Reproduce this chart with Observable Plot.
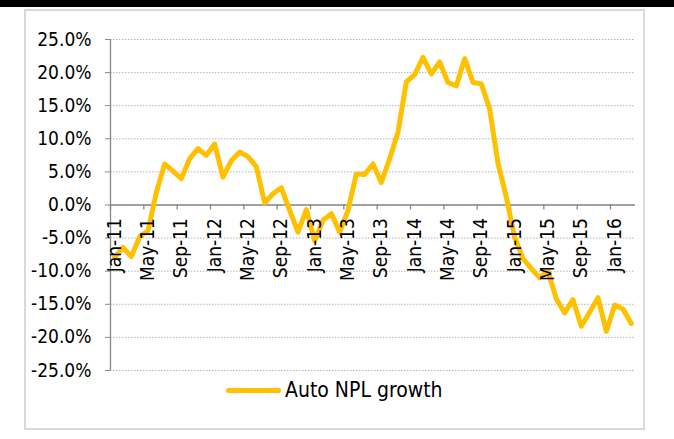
<!DOCTYPE html>
<html>
<head>
<meta charset="utf-8">
<script src="https://cdn.jsdelivr.net/npm/d3@7"></script>
<script src="https://cdn.jsdelivr.net/npm/@observablehq/plot@0.6"></script>
<style>
  html, body { margin: 0; padding: 0; background: #fff; }
  #wrap { position: relative; width: 674px; height: 439px; overflow: hidden;
          font-family: "DejaVu Sans Condensed", "Liberation Sans Narrow", "DejaVu Sans", sans-serif; font-stretch: condensed; }
  #bar { position: absolute; left: 0; top: 0; width: 674px; height: 7px; background: #000; }
  #frame { position: absolute; left: 24px; top: 9px; width: 617px; height: 417px; border: 2px solid #d9d9d9; }
  #chart { position: absolute; left: 0; top: 0; }
  #legend { position: absolute; left: 226px; top: 378px; display: flex; align-items: center; font-size: 21px; color: #000; }
  #legend .sw { width: 55px; height: 5px; border-radius: 3px; background: #FFC000; margin-right: 4px; }
  svg text { font-family: "DejaVu Sans Condensed", "Liberation Sans Narrow", "DejaVu Sans", sans-serif; font-stretch: condensed; }
</style>
</head>
<body>
<div id="wrap">
  <div id="bar"></div>
  <div id="frame"></div>
  <div id="chart"></div>
  <div id="legend"><div class="sw"></div><span>Auto NPL growth</span></div>
</div>
<script>
// Monthly Auto NPL growth (%), Jan-11 .. Mar-16
const values = [
  -7.9, -6.4, -7.8, -4.8, -3.9, 1.9, 6.2, 5.1, 4.0, 7.0, 8.5, 7.5,
  9.2, 4.2, 6.7, 8.0, 7.3, 5.8, 0.3, 1.7, 2.6, -0.8, -4.1, -0.7,
  -5.4, -2.3, -1.3, -4.1, -0.8, 4.7, 4.6, 6.2, 3.4, 7.0, 11.0, 18.6,
  19.7, 22.3, 19.8, 21.6, 18.5, 18.0, 22.1, 18.5, 18.3, 14.5, 6.3, 1.2,
  -4.9, -8.1, -9.6, -11.0, -10.0, -14.2, -16.3, -14.3, -18.3, -16.2, -14.0, -19.1,
  -15.1, -15.7, -17.9
];
const tickLabels = ["Jan-11","May-11","Sep-11","Jan-12","May-12","Sep-12","Jan-13","May-13",
                    "Sep-13","Jan-14","May-14","Sep-14","Jan-15","May-15","Sep-15","Jan-16"];
const tickStep = 4; // months between labels
const yTicks = [25, 20, 15, 10, 5, 0, -5, -10, -15, -20, -25];
const seriesName = "Auto NPL growth";

const data = values.map((v, i) => ({i, v}));
const ticks = tickLabels.map((label, k) => ({label, idx: k * tickStep}));

const chart = Plot.plot({
  width: 674,
  height: 439,
  marginLeft: 110,
  marginRight: 39,
  marginTop: 39,
  marginBottom: 69,
  x: {domain: [0, values.length], axis: null},
  y: {domain: [-25, 25], axis: null},
  style: {background: "transparent", overflow: "visible"},
  marks: [
    Plot.gridY(yTicks, {stroke: "#b4b4b4", strokeOpacity: 1, strokeDasharray: "1.5,1.5"}),
    Plot.axisY(yTicks, {tickSize: 5, tickPadding: 14, stroke: "#888", fill: "#000", fontSize: 19,
                        tickFormat: d => d.toFixed(1) + "%", label: null}),
    Plot.ruleX([0], {stroke: "#888", strokeWidth: 1.3}),
    Plot.ruleY([0], {stroke: "#888", strokeWidth: 1.3}),
    Plot.ruleX(ticks, {x: "idx", y1: 0, y2: 0, insetBottom: -5, stroke: "#888", strokeWidth: 1.3}),
    Plot.line(data, {x: d => d.i + 0.5, y: "v", stroke: "#FFC000", strokeWidth: 5,
                     strokeLinejoin: "round", strokeLinecap: "round"}),
    Plot.text(ticks, {x: d => d.idx + 0.5, y: 0, text: "label", rotate: -90, textAnchor: "end",
                      dy: 13, fontSize: 19, fill: "#000"})
  ]
});
document.getElementById("chart").appendChild(chart);
document.querySelector("#legend span").textContent = seriesName;
</script>
</body>
</html>
